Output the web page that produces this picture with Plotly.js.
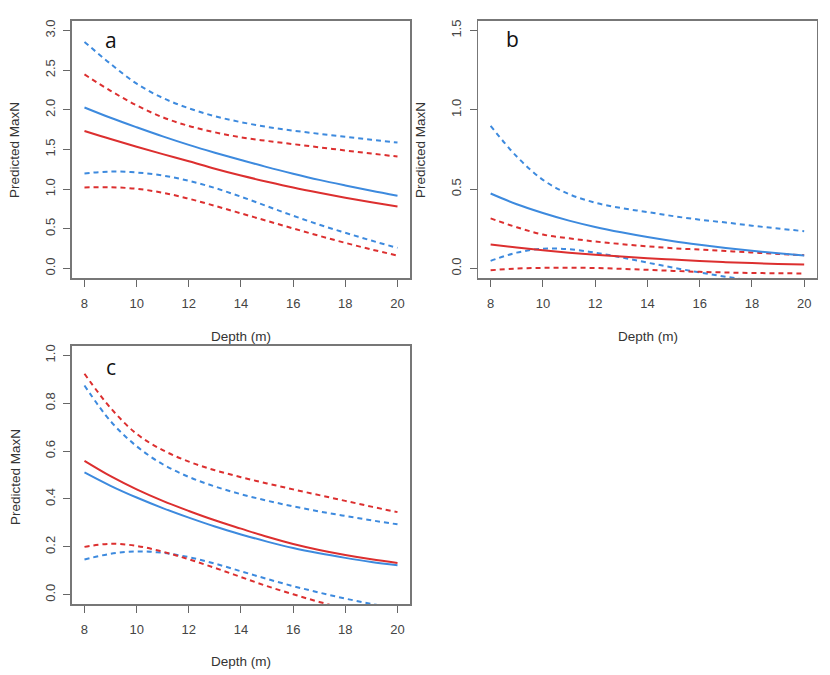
<!DOCTYPE html>
<html>
<head>
<meta charset="utf-8">
<script src="https://cdn.plot.ly/plotly-3.0.1.min.js"></script>
<style>html,body{margin:0;padding:0;background:#fff;}#chart{width:830px;height:675px;}</style>
</head>
<body>
<div id="chart"></div>
<script>
// Depth values (m)
const depth = [8, 9, 10, 11, 12, 13, 14, 15, 16, 17, 18, 19, 20];

// Panel a
const aBlueFit = [2.03, 1.90, 1.78, 1.665, 1.558, 1.46, 1.368, 1.278, 1.195, 1.117, 1.047, 0.98, 0.918];
const aBlueUpr = [2.856, 2.58, 2.33, 2.15, 2.02, 1.92, 1.845, 1.785, 1.738, 1.698, 1.66, 1.623, 1.588];
const aBlueLwr = [1.198, 1.222, 1.21, 1.172, 1.105, 1.015, 0.905, 0.785, 0.665, 0.553, 0.45, 0.352, 0.26];
const aRedFit  = [1.734, 1.632, 1.535, 1.442, 1.352, 1.258, 1.172, 1.094, 1.02, 0.954, 0.893, 0.836, 0.783];
const aRedUpr  = [2.446, 2.24, 2.056, 1.906, 1.797, 1.717, 1.654, 1.608, 1.568, 1.528, 1.488, 1.449, 1.411];
const aRedLwr  = [1.022, 1.024, 1.005, 0.955, 0.88, 0.79, 0.695, 0.6, 0.505, 0.412, 0.323, 0.24, 0.163];

// Panel b
const bBlueFit = [0.473, 0.405, 0.35, 0.302, 0.262, 0.228, 0.198, 0.172, 0.15, 0.13, 0.112, 0.096, 0.082];
const bBlueUpr = [0.899, 0.706, 0.559, 0.469, 0.415, 0.381, 0.356, 0.33, 0.308, 0.29, 0.27, 0.252, 0.235];
const bBlueLwr = [0.048, 0.1, 0.125, 0.122, 0.1, 0.07, 0.037, 0.005, -0.025, -0.052, -0.077, -0.1, -0.12];
const bRedFit  = [0.151, 0.132, 0.115, 0.10, 0.087, 0.075, 0.065, 0.056, 0.047, 0.04, 0.034, 0.029, 0.025];
const bRedUpr  = [0.316, 0.26, 0.214, 0.19, 0.17, 0.154, 0.14, 0.128, 0.119, 0.11, 0.101, 0.092, 0.084];
const bRedLwr  = [-0.011, 0.0, 0.004, 0.005, 0.003, -0.002, -0.008, -0.015, -0.021, -0.025, -0.028, -0.030, -0.031];

// Panel c
const cBlueFit = [0.511, 0.455, 0.406, 0.362, 0.322, 0.285, 0.252, 0.222, 0.195, 0.173, 0.154, 0.137, 0.123];
const cBlueUpr = [0.874, 0.725, 0.62, 0.545, 0.492, 0.452, 0.42, 0.393, 0.369, 0.348, 0.329, 0.311, 0.294];
const cBlueLwr = [0.147, 0.171, 0.181, 0.175, 0.157, 0.13, 0.098, 0.066, 0.036, 0.009, -0.016, -0.038, -0.058];
const cRedFit  = [0.559, 0.495, 0.44, 0.392, 0.35, 0.311, 0.276, 0.242, 0.212, 0.187, 0.166, 0.148, 0.133];
const cRedUpr  = [0.923, 0.78, 0.672, 0.604, 0.556, 0.52, 0.491, 0.465, 0.44, 0.416, 0.392, 0.368, 0.345];
const cRedLwr  = [0.2, 0.213, 0.204, 0.18, 0.148, 0.112, 0.074, 0.036, 0.002, -0.03, -0.058, -0.084, -0.106];

const panelLetters = ['a', 'b', 'c'];
const xTitle = 'Depth (m)';
const yTitle = 'Predicted MaxN';
const xTicks = [8, 10, 12, 14, 16, 18, 20];
const yTicksA = [0, 0.5, 1, 1.5, 2, 2.5, 3];
const yTicksB = [0, 0.5, 1, 1.5];
const yTicksC = [0, 0.2, 0.4, 0.6, 0.8, 1];

const BLUE = '#3d8ade';
const RED = '#dc2f2f';

function line(y, color, dashed, xa, ya) {
  return {
    x: depth, y: y, xaxis: xa, yaxis: ya, type: 'scatter', mode: 'lines',
    line: {color: color, width: 2, dash: dashed ? '5px,4px' : 'solid', shape: 'spline', smoothing: 1},
    hoverinfo: 'skip', showlegend: false
  };
}

const traces = [
  line(aBlueUpr, BLUE, true, 'x', 'y'), line(aRedUpr, RED, true, 'x', 'y'),
  line(aBlueLwr, BLUE, true, 'x', 'y'), line(aRedLwr, RED, true, 'x', 'y'),
  line(aBlueFit, BLUE, false, 'x', 'y'), line(aRedFit, RED, false, 'x', 'y'),
  line(bBlueUpr, BLUE, true, 'x2', 'y2'), line(bRedUpr, RED, true, 'x2', 'y2'),
  line(bBlueLwr, BLUE, true, 'x2', 'y2'), line(bRedLwr, RED, true, 'x2', 'y2'),
  line(bBlueFit, BLUE, false, 'x2', 'y2'), line(bRedFit, RED, false, 'x2', 'y2'),
  line(cBlueUpr, BLUE, true, 'x3', 'y3'), line(cRedUpr, RED, true, 'x3', 'y3'),
  line(cBlueLwr, BLUE, true, 'x3', 'y3'), line(cRedLwr, RED, true, 'x3', 'y3'),
  line(cBlueFit, BLUE, false, 'x3', 'y3'), line(cRedFit, RED, false, 'x3', 'y3')
];

const tickFont = {family: 'Liberation Sans, Arial, sans-serif', size: 13, color: '#444'};
function xax(domain, anchor) {
  return {
    domain: domain, anchor: anchor, range: [7.52, 20.48], tickvals: xTicks,
    ticks: 'outside', ticklen: 7, tickcolor: '#666', tickwidth: 1,
    showline: true, mirror: true, linecolor: '#777', linewidth: 1.5,
    showgrid: false, zeroline: false, tickfont: tickFont, ticklabelstandoff: 6
  };
}
function yax(domain, anchor, range, ticks) {
  return {
    domain: domain, anchor: anchor, range: range, tickvals: ticks, tickformat: '.1f',
    ticks: 'outside', ticklen: 7, tickcolor: '#666', tickwidth: 1, tickangle: -90,
    showline: true, mirror: true, linecolor: '#777', linewidth: 1.5,
    showgrid: false, zeroline: false, tickfont: tickFont, ticklabelstandoff: 3
  };
}

const titleFont = {family: 'Liberation Sans, Arial, sans-serif', size: 13.5, color: '#333'};
const letterFont = {family: 'Open Sans, sans-serif', size: 21, color: '#111'};
function ann(text, x, y, font, angle) {
  return {text: text, x: x, y: y, xref: 'paper', yref: 'paper', showarrow: false,
          xanchor: 'center', yanchor: 'middle', font: font, textangle: angle || 0};
}

const layout = {
  width: 830, height: 675,
  margin: {l: 0, r: 0, t: 0, b: 0},
  paper_bgcolor: '#fff', plot_bgcolor: '#fff',
  showlegend: false,
  xaxis: xax([0.0867, 0.494], 'y'),
  yaxis: yax([0.5881, 0.9689], 'x', [-0.12, 3.12], yTicksA),
  xaxis2: xax([0.576, 0.984], 'y2'),
  yaxis2: yax([0.5881, 0.9689], 'x2', [-0.06, 1.56], yTicksB),
  xaxis3: xax([0.0867, 0.494], 'y3'),
  yaxis3: yax([0.1047, 0.4878], 'x3', [-0.04, 1.04], yTicksC),
  annotations: [
    ann(panelLetters[0], 0.1337, 0.9407, letterFont),
    ann(panelLetters[1], 0.6169, 0.9422, letterFont),
    ann(panelLetters[2], 0.1337, 0.4563, letterFont),
    ann(xTitle, 0.2904, 0.5022, titleFont),
    ann(xTitle, 0.7811, 0.5022, titleFont),
    ann(xTitle, 0.2904, 0.0193, titleFont),
    ann(yTitle, 0.0181, 0.7778, titleFont, -90),
    ann(yTitle, 0.5072, 0.7778, titleFont, -90),
    ann(yTitle, 0.0181, 0.2933, titleFont, -90)
  ]
};

Plotly.newPlot('chart', traces, layout, {staticPlot: true, displayModeBar: false});
</script>
</body>
</html>
